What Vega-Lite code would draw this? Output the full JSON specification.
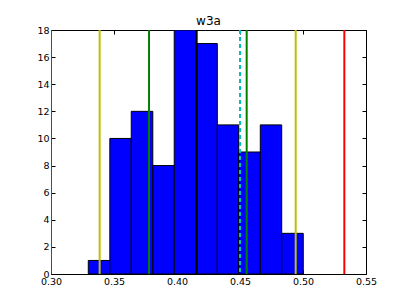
{
  "$schema": "https://vega.github.io/schema/vega-lite/v6.json",
  "autosize": "none",
  "width": 315,
  "height": 244,
  "padding": {"left": 51, "top": 30, "right": 41, "bottom": 31},
  "background": "white",
  "title": {"text": "w3a", "fontSize": 12, "font": "DejaVu Sans", "fontWeight": "normal", "color": "black", "offset": -3},
  "config": {
    "view": {"stroke": null},
    "axis": {"grid": false, "domainColor": "black", "tickColor": "black", "labelColor": "black", "labelFont": "DejaVu Sans", "labelFontSize": 9.5, "title": null, "tickSize": -4, "domainWidth": 1, "labelFlush": false, "zindex": 1}
  },
  "datasets": {
    "bins": [
      {"lo": 0.3296, "hi": 0.3467, "count": 1},
      {"lo": 0.3467, "hi": 0.3637, "count": 10},
      {"lo": 0.3637, "hi": 0.3808, "count": 12},
      {"lo": 0.3808, "hi": 0.3978, "count": 8},
      {"lo": 0.3978, "hi": 0.4149, "count": 18},
      {"lo": 0.4149, "hi": 0.4320, "count": 17},
      {"lo": 0.4320, "hi": 0.4490, "count": 11},
      {"lo": 0.4490, "hi": 0.4661, "count": 9},
      {"lo": 0.4661, "hi": 0.4831, "count": 11},
      {"lo": 0.4831, "hi": 0.5002, "count": 3}
    ],
    "lines": [
      {"v": 0.30, "kind": "red"},
      {"v": 0.3386, "kind": "yellow"},
      {"v": 0.3778, "kind": "green"},
      {"v": 0.4156, "kind": "black"},
      {"v": 0.4553, "kind": "green"},
      {"v": 0.4942, "kind": "yellow"},
      {"v": 0.5328, "kind": "red"}
    ],
    "dashed": [
      {"v": 0.4500, "kind": "cyan"}
    ]
  },
  "layer": [
    {
      "data": {"name": "bins"},
      "mark": {"type": "rect", "color": "#0000ff", "stroke": "black", "strokeWidth": 1, "clip": true},
      "encoding": {
        "x": {"field": "lo", "type": "quantitative", "scale": {"domain": [0.30, 0.55], "nice": false}, "axis": {"values": [0.30, 0.35, 0.40, 0.45, 0.50, 0.55], "format": ".2f", "orient": "bottom", "labelPadding": 6}},
        "x2": {"field": "hi"},
        "y": {"field": "count", "type": "quantitative", "scale": {"domain": [0, 18], "nice": false}, "axis": {"values": [0, 2, 4, 6, 8, 10, 12, 14, 16, 18], "orient": "left", "labelPadding": 6}},
        "y2": {"datum": 0}
      }
    },
    {
      "data": {"name": "lines"},
      "mark": {"type": "rule", "strokeWidth": 2, "clip": true},
      "encoding": {
        "x": {"field": "v", "type": "quantitative", "axis": {"orient": "top", "labels": false, "values": [0.30, 0.35, 0.40, 0.45, 0.50, 0.55], "minExtent": 0, "maxExtent": 0}},
        "color": {"field": "kind", "type": "nominal", "legend": null, "scale": {"domain": ["red", "yellow", "green", "black", "cyan"], "range": ["#ff0000", "#bfbf00", "#008000", "#000000", "#00bfbf"]}}
      }
    },
    {
      "data": {"name": "dashed"},
      "mark": {"type": "rule", "strokeWidth": 2, "strokeDash": [4, 3], "clip": true},
      "encoding": {
        "x": {"field": "v", "type": "quantitative", "axis": null},
        "color": {"field": "kind", "type": "nominal", "legend": null}
      }
    },
    {
      "data": {"values": [{"c": 0}]},
      "mark": {"type": "point", "opacity": 0},
      "encoding": {
        "y": {"field": "c", "type": "quantitative", "axis": {"orient": "right", "labels": false, "values": [0, 2, 4, 6, 8, 10, 12, 14, 16, 18]}}
      }
    }
  ],
  "resolve": {"axis": {"x": "independent", "y": "independent"}}
}
